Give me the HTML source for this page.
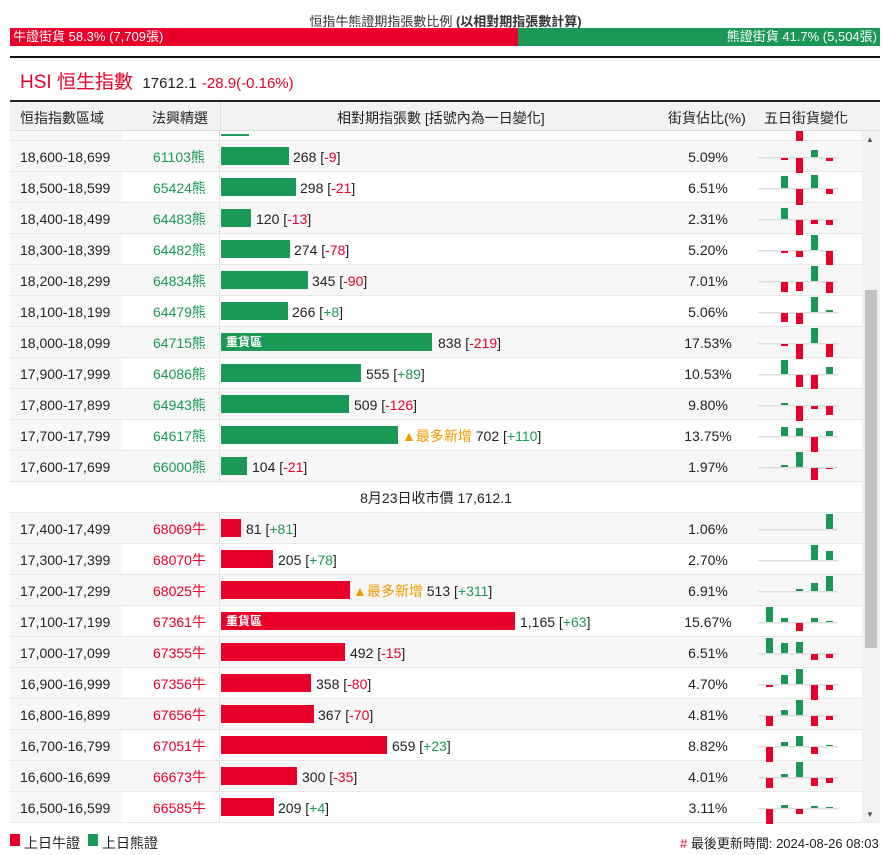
<!DOCTYPE html>
<html><head><meta charset="utf-8"><style>
*{margin:0;padding:0;box-sizing:border-box}
body{width:891px;height:855px;background:#fff;font-family:"Liberation Sans","Noto Sans CJK TC",sans-serif;font-size:14px;color:#222;position:relative;overflow:hidden}
.a{position:absolute;white-space:nowrap}
.row{position:absolute;left:10px;width:852px;height:31px;border-bottom:1px solid #e8e8e8}
.g{background:#f7f7f7}.w{background:#fff}
.c1{position:absolute;left:0;top:0;width:112px;height:30px;background:#f7f7f7;padding-left:10px;line-height:32px}
.c2{position:absolute;left:112px;top:0;width:98px;height:30px;line-height:32px;padding-left:31px;border-right:1px solid #e2e2e2}
.bar{position:absolute;left:211px;top:6px;height:18px}
.bg{background:#1b9856}.br{background:#e8002a}
.t{position:absolute;top:0;line-height:32px}
.pct{position:absolute;left:648px;width:100px;text-align:center;line-height:32px}
.grn{color:#1b9856}.red{color:#e8002a}.org{color:#f39800}
.lbl{position:absolute;left:5px;top:0;line-height:18px;color:#fff;font-weight:bold;font-size:12px}
</style></head><body>
<div class="a" style="left:0;width:891px;top:11px;text-align:center;font-size:13px;color:#333">恒指牛熊證期指張數比例 <b>(以相對期指張數計算)</b></div>
<div class="a" style="left:10px;top:28px;width:508px;height:18px;background:#e8002a;color:#fff;line-height:18px;padding-left:3px;font-size:13px">牛證街貨 58.3% (7,709張)</div>
<div class="a" style="left:518px;top:28px;width:362px;height:18px;background:#1b9856;color:#fff;line-height:18px;text-align:right;padding-right:3px;font-size:13px">熊證街貨 41.7% (5,504張)</div>
<div class="a" style="left:10px;top:56px;width:870px;height:2px;background:#111"></div>
<div class="a" style="left:20px;top:67px;font-size:19px;color:#e8002a">HSI 恒生指數 <span style="font-size:15px;color:#222">&nbsp;17612.1</span> <span style="font-size:15px;color:#e8002a">-28.9(-0.16%)</span></div>
<div class="a" style="left:10px;top:100px;width:870px;height:2px;background:#222"></div>
<div class="a" style="left:10px;top:102px;width:870px;height:29px;background:#f2f2f2;border-bottom:1px solid #ddd"></div>
<div class="a" style="left:20px;top:108px;">恒指指數區域</div>
<div class="a" style="left:152px;top:108px;">法興精選</div>
<div class="a" style="left:220px;top:102px;width:1px;height:29px;background:#ddd"></div>
<div class="a" style="left:337px;top:108px;">相對期指張數 [括號內為一日變化]</div>
<div class="a" style="left:668px;top:108px;">街貨佔比(%)</div>
<div class="a" style="left:764px;top:108px;">五日街貨變化</div>
<div class="row w" style="top:131px;height:10px"><div class="c1" style="height:9px"></div><div class="c2" style="height:9px"></div><div class="bar bg" style="top:3px;height:2px;width:28px"></div></div>

<div class="row g" style="top:141px"><div class="c1">18,600-18,699</div><div class="c2 grn">61103熊</div><div class="bar bg" style="width:68px"></div><div class="t" style="left:283px">268 [<span class="red">-9</span>]</div><div class="pct">5.09%</div></div>
<div class="row w" style="top:172px"><div class="c1">18,500-18,599</div><div class="c2 grn">65424熊</div><div class="bar bg" style="width:75px"></div><div class="t" style="left:290px">298 [<span class="red">-21</span>]</div><div class="pct">6.51%</div></div>
<div class="row g" style="top:203px"><div class="c1">18,400-18,499</div><div class="c2 grn">64483熊</div><div class="bar bg" style="width:30px"></div><div class="t" style="left:246px">120 [<span class="red">-13</span>]</div><div class="pct">2.31%</div></div>
<div class="row w" style="top:234px"><div class="c1">18,300-18,399</div><div class="c2 grn">64482熊</div><div class="bar bg" style="width:69px"></div><div class="t" style="left:284px">274 [<span class="red">-78</span>]</div><div class="pct">5.20%</div></div>
<div class="row g" style="top:265px"><div class="c1">18,200-18,299</div><div class="c2 grn">64834熊</div><div class="bar bg" style="width:87px"></div><div class="t" style="left:302px">345 [<span class="red">-90</span>]</div><div class="pct">7.01%</div></div>
<div class="row w" style="top:296px"><div class="c1">18,100-18,199</div><div class="c2 grn">64479熊</div><div class="bar bg" style="width:67px"></div><div class="t" style="left:282px">266 [<span class="grn">+8</span>]</div><div class="pct">5.06%</div></div>
<div class="row g" style="top:327px"><div class="c1">18,000-18,099</div><div class="c2 grn">64715熊</div><div class="bar bg" style="width:211px"><span class="lbl">重貨區</span></div><div class="t" style="left:428px">838 [<span class="red">-219</span>]</div><div class="pct">17.53%</div></div>
<div class="row w" style="top:358px"><div class="c1">17,900-17,999</div><div class="c2 grn">64086熊</div><div class="bar bg" style="width:140px"></div><div class="t" style="left:356px">555 [<span class="grn">+89</span>]</div><div class="pct">10.53%</div></div>
<div class="row g" style="top:389px"><div class="c1">17,800-17,899</div><div class="c2 grn">64943熊</div><div class="bar bg" style="width:128px"></div><div class="t" style="left:344px">509 [<span class="red">-126</span>]</div><div class="pct">9.80%</div></div>
<div class="row w" style="top:420px"><div class="c1">17,700-17,799</div><div class="c2 grn">64617熊</div><div class="bar bg" style="width:177px"></div><div class="t" style="left:392px"><span class="org">▲最多新增</span> 702 [<span class="grn">+110</span>]</div><div class="pct">13.75%</div></div>
<div class="row g" style="top:451px"><div class="c1">17,600-17,699</div><div class="c2 grn">66000熊</div><div class="bar bg" style="width:26px"></div><div class="t" style="left:242px">104 [<span class="red">-21</span>]</div><div class="pct">1.97%</div></div>
<div class="row w" style="top:482px"><div class="t" style="left:0;width:852px;text-align:center">8月23日收市價 17,612.1</div></div>
<div class="row g" style="top:513px"><div class="c1">17,400-17,499</div><div class="c2 red">68069牛</div><div class="bar br" style="width:20px"></div><div class="t" style="left:236px">81 [<span class="grn">+81</span>]</div><div class="pct">1.06%</div></div>
<div class="row w" style="top:544px"><div class="c1">17,300-17,399</div><div class="c2 red">68070牛</div><div class="bar br" style="width:52px"></div><div class="t" style="left:268px">205 [<span class="grn">+78</span>]</div><div class="pct">2.70%</div></div>
<div class="row g" style="top:575px"><div class="c1">17,200-17,299</div><div class="c2 red">68025牛</div><div class="bar br" style="width:129px"></div><div class="t" style="left:343px"><span class="org">▲最多新增</span> 513 [<span class="grn">+311</span>]</div><div class="pct">6.91%</div></div>
<div class="row w" style="top:606px"><div class="c1">17,100-17,199</div><div class="c2 red">67361牛</div><div class="bar br" style="width:294px"><span class="lbl">重貨區</span></div><div class="t" style="left:510px">1,165 [<span class="grn">+63</span>]</div><div class="pct">15.67%</div></div>
<div class="row g" style="top:637px"><div class="c1">17,000-17,099</div><div class="c2 red">67355牛</div><div class="bar br" style="width:124px"></div><div class="t" style="left:340px">492 [<span class="red">-15</span>]</div><div class="pct">6.51%</div></div>
<div class="row w" style="top:668px"><div class="c1">16,900-16,999</div><div class="c2 red">67356牛</div><div class="bar br" style="width:90px"></div><div class="t" style="left:306px">358 [<span class="red">-80</span>]</div><div class="pct">4.70%</div></div>
<div class="row g" style="top:699px"><div class="c1">16,800-16,899</div><div class="c2 red">67656牛</div><div class="bar br" style="width:93px"></div><div class="t" style="left:308px">367 [<span class="red">-70</span>]</div><div class="pct">4.81%</div></div>
<div class="row w" style="top:730px"><div class="c1">16,700-16,799</div><div class="c2 red">67051牛</div><div class="bar br" style="width:166px"></div><div class="t" style="left:382px">659 [<span class="grn">+23</span>]</div><div class="pct">8.82%</div></div>
<div class="row g" style="top:761px"><div class="c1">16,600-16,699</div><div class="c2 red">66673牛</div><div class="bar br" style="width:76px"></div><div class="t" style="left:292px">300 [<span class="red">-35</span>]</div><div class="pct">4.01%</div></div>
<div class="row w" style="top:792px"><div class="c1">16,500-16,599</div><div class="c2 red">66585牛</div><div class="bar br" style="width:53px"></div><div class="t" style="left:268px">209 [<span class="grn">+4</span>]</div><div class="pct">3.11%</div></div>

<svg class="a" id="mini" style="left:0;top:0" width="891" height="855"></svg>
<div class="a" style="left:862px;top:131px;width:18px;height:692px;background:#f1f1f1"></div>
<div class="a" style="left:865px;top:290px;width:12px;height:358px;background:#c1c1c1"></div>
<div class="a" style="left:866px;top:135px;font-size:8px;color:#555">▲</div>
<div class="a" style="left:866px;top:810px;font-size:8px;color:#555">▼</div>

<div class="a" style="left:10px;top:834px;width:10px;height:12px;background:#e8002a"></div>
<div class="a" style="left:24px;top:833px">上日牛證</div>
<div class="a" style="left:88px;top:834px;width:10px;height:12px;background:#1b9856"></div>
<div class="a" style="left:102px;top:833px">上日熊證</div>
<div class="a" style="left:680px;top:833px;font-size:13px"><span class="red">#</span> 最後更新時間: 2024-08-26 08:03</div>
<script>
var d=[[141,[0,-2,-15,7,-3]],[172,[0,12,-16,13,-5]],[203,[0,11,-15,-4,-5]],[234,[0,-2,-6,15,-14]],[265,[0,-10,-9,15,-11]],[296,[0,-9,-11,15,2]],[327,[0,-2,-15,15,-13]],[358,[0,14,-12,-14,7]],[389,[0,2,-15,-3,-9]],[420,[0,9,8,-15,5]],[451,[0,2,15,-12,-1]],[513,[0,0,0,0,15]],[544,[0,0,0,15,9]],[575,[0,0,2,8,15]],[606,[15,4,-8,4,1]],[637,[15,10,11,-6,-4]],[668,[-2,9,15,-15,-5]],[699,[-10,5,15,-10,-4]],[730,[-15,4,10,-7,1]],[761,[-10,3,15,-8,-5]],[792,[-15,3,-5,2,1]]];
var s='<rect x="796" y="131" width="7" height="10" fill="#e8002a"/>';
d.forEach(function(r){var c=r[0]+16;s+='<rect x="758" y="'+c+'" width="80" height="1.5" fill="#ddd"/>';
r[1].forEach(function(v,i){if(!v)return;var x=766+15*i;s+=v>0?'<rect x="'+x+'" y="'+(c-v)+'" width="7" height="'+v+'" fill="#1b9856"/>':'<rect x="'+x+'" y="'+(c+1)+'" width="7" height="'+(-v)+'" fill="#e8002a"/>';});});
document.getElementById('mini').innerHTML=s;
</script>
</body></html>
